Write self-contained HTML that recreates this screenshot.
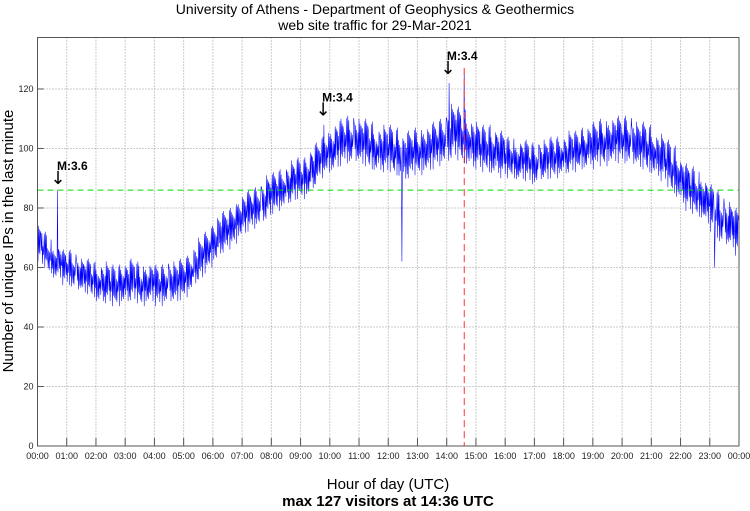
<!DOCTYPE html>
<html><head><meta charset="utf-8"><style>
html,body{margin:0;padding:0;background:#fff;}
svg{display:block;font-family:"Liberation Sans",sans-serif;}
</style></head><body>
<svg id="chart" width="750" height="511" viewBox="0 0 750 511">
<text x="375" y="14" text-anchor="middle" font-size="14">University of Athens - Department of Geophysics &amp; Geothermics</text>
<text x="375" y="30" text-anchor="middle" font-size="14">web site traffic for 29-Mar-2021</text>
<g id="grid"></g>
<g id="series"></g>
<g id="marks"></g>
<rect x="37.5" y="37.5" width="701.5" height="408.5" fill="none" stroke="#555" stroke-width="1"/>
<g id="axes"></g>
<text x="388" y="489" text-anchor="middle" font-size="15">Hour of day (UTC)</text>
<text x="388" y="506" text-anchor="middle" font-size="15" font-weight="bold">max 127 visitors at 14:36 UTC</text>
<text transform="translate(13,241) rotate(-90)" text-anchor="middle" font-size="15">Number of unique IPs in the last minute</text>
</svg>
<script>
const hourMeans = [
68,66,64,62,62,60, 60,59,58,57,57,56, 55,55,55,54,54,55, 55,56,55,54,55,55,
54,54,55,55,55,56, 57,59,61,63,65,67, 69,71,72,73,75,77, 78,79,80,81,82,84,
85,86,87,88,89,90, 90,91,93,95,97,99, 100,101,102,103,103,103, 102,102,101,100,100,100,
100,99,98,97,98,99, 99,100,100,101,102,103, 104,106,105,104,103,102, 101,100,100,99,99,98,
97,97,96,96,96,95, 95,96,96,97,97,98, 98,99,99,100,100,101, 101,102,102,103,103,103,
103,103,102,101,101,100, 99,98,97,95,93,91, 89,87,86,85,84,82, 80,78,76,75,74,72];
const hourSpread = [6,6,7,7,7,7,7,7,7,7,8,8,8,8,9,8,7,7,7,8,8,8,8,8];
const spikeTimes = [0.68, 12.47, 14.6, 14.08, 23.17, 9.8];
const spikeValues = [86, 62, 127, 122, 60, 108];
const yTicks = [0,20,40,60,80,100,120];
const xTickLabels = ["00:00","01:00","02:00","03:00","04:00","05:00","06:00","07:00","08:00","09:00","10:00","11:00","12:00","13:00","14:00","15:00","16:00","17:00","18:00","19:00","20:00","21:00","22:00","23:00","00:00"];
const quakeTimes = [0.7, 9.77, 14.04];
const quakeLabels = ["M:3.6","M:3.4","M:3.4"];
const quakeValues = [88, 111, 125];
const thresholdValue = 86;
const maxTime = 14.6;
const maxValue = 127;

const NS="http://www.w3.org/2000/svg";
const X0=37.5,X1=739,Y0=446,YT=37.5,YMAX=137.3;
const xs=h=>X0+(X1-X0)*h/24;
const ys=v=>Y0-(Y0-YT)*v/YMAX;
function mk(tag,attrs,parent){const e=document.createElementNS(NS,tag);for(const k in attrs)e.setAttribute(k,attrs[k]);document.getElementById(parent).appendChild(e);return e;}

yTicks.forEach(v=>{
 if(v>0){const g=mk('line',{x1:X0,x2:X1,y1:ys(v),y2:ys(v),stroke:'#999','stroke-dasharray':'1,2'},'grid');
 
 }
 const t=mk('line',{x1:X0,x2:X0+6,y1:ys(v),y2:ys(v),stroke:'#555'},'axes');
 
 
 const l=mk('text',{x:X0-4,y:ys(v)+3,'text-anchor':'end','font-size':'9',fill:'#222'},'axes');l.textContent=v;
 
 
});
xTickLabels.forEach((s,i)=>{
 const x=xs(i);
 if(i>0&&i<24){const g=mk('line',{x1:x,x2:x,y1:YT,y2:Y0,stroke:'#999','stroke-dasharray':'1,2'},'grid');
 
 }
 const t=mk('line',{x1:x,x2:x,y1:Y0,y2:Y0-8,stroke:'#555'},'axes');
 
 
 const l=mk('text',{x:x,y:Y0+13,'text-anchor':'middle','font-size':'9',fill:'#222'},'axes');l.textContent=s;
 
 
});
const jit=[0.9,-0.7,0.5,-1,0.3,-0.4,1,-0.8,0.6,-0.5,0.2,-0.9,0.8,-0.3,0.4,-0.6,0.1,-0.2,0.7];
let pts=[];
hourMeans.forEach((m,i)=>{
 const a=hourSpread[Math.floor(i/6)];
 for(let k=0;k<10;k++){
  const t=(i*10+k)/60;
  pts.push([t, m + a*jit[(i*7+k*3)%jit.length]]);
 }
});
spikeTimes.forEach((t,j)=>{
 let best=0,bd=1e9;pts.forEach((p,i)=>{const d=Math.abs(p[0]-t);if(d<bd){bd=d;best=i;}});
 pts[best]=[pts[best][0],spikeValues[j]];
});
const line=mk('polyline',{points:pts.map(p=>xs(p[0]).toFixed(1)+','+ys(p[1]).toFixed(1)).join(' '),fill:'none',stroke:'#0000ff','stroke-width':'0.55'},'series');



const th=mk('line',{x1:X0,x2:X1,y1:ys(thresholdValue),y2:ys(thresholdValue),stroke:'#00dd00','stroke-dasharray':'6,4'},'marks');


const mx=mk('line',{x1:xs(maxTime),x2:xs(maxTime),y1:ys(maxValue),y2:Y0,stroke:'#ff3333','stroke-dasharray':'7,4'},'marks');


quakeTimes.forEach((t,i)=>{
 const x=xs(t),y=ys(quakeValues[i]);
 const a=mk('text',{x:x,y:y,'text-anchor':'middle','font-size':'18','font-family':'DejaVu Sans, sans-serif'},'marks');a.textContent='↓';
 
 
 const l=mk('text',{x:x-1,y:y-14,'font-size':'12','font-weight':'bold'},'marks');l.textContent=quakeLabels[i];
 
 
});
</script>
</body></html>
